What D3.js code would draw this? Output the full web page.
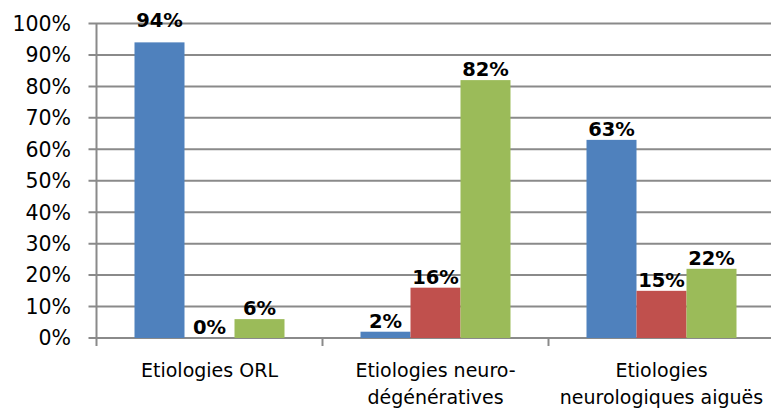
<!DOCTYPE html>
<html>
<head>
<meta charset="utf-8">
<script src="https://cdn.jsdelivr.net/npm/d3@7"></script>
<style>
  html, body { margin: 0; padding: 0; background: #fff; }
  svg { display: block; }
</style>
</head>
<body>
<svg id="chart" width="771" height="409"></svg>
<script>
const categories = [
  ["Etiologies ORL"],
  ["Etiologies neuro-", "dégénératives"],
  ["Etiologies", "neurologiques aiguës"]
];
const seriesNames = ["S1", "S2", "S3"];
const series1 = [0.94, 0.02, 0.63];
const series2 = [0.00, 0.16, 0.15];
const series3 = [0.06, 0.82, 0.22];
const yTicks = [0, 0.1, 0.2, 0.3, 0.4, 0.5, 0.6, 0.7, 0.8, 0.9, 1.0];
const colors = ["#4F81BD", "#C0504D", "#9BBB59"];

(function () {
const svg = d3.select("#chart");
const pLeft = 96.5, pRight = 774.5, pTop = 23.5, pBottom = 338;
const gridColor = "#8a8a8a";

const catKeys = categories.map((c, i) => i);
const x0 = d3.scaleBand().domain(catKeys).range([pLeft, pRight]).padding(0);
const x1 = d3.scaleBand().domain(seriesNames).range([0, x0.bandwidth()])
  .paddingInner(0).paddingOuter(0.76);
const y = d3.scaleLinear().domain([0, 1]).range([pBottom, pTop]);

// gridlines
svg.append("g").selectAll("line").data(yTicks).join("line")
  .attr("x1", pLeft - 8).attr("x2", pRight)
  .attr("y1", d => y(d)).attr("y2", d => y(d))
  .attr("stroke", gridColor).attr("stroke-width", 2);

// y axis line
svg.append("line").attr("x1", pLeft).attr("x2", pLeft)
  .attr("y1", pTop).attr("y2", pBottom + 8)
  .attr("stroke", gridColor).attr("stroke-width", 2);

// category tick marks
svg.append("g").selectAll("line").data(catKeys.slice(1).concat([catKeys.length])).join("line")
  .attr("x1", d => pLeft + d * x0.step()).attr("x2", d => pLeft + d * x0.step())
  .attr("y1", pBottom).attr("y2", pBottom + 8)
  .attr("stroke", gridColor).attr("stroke-width", 2);

// y tick labels
const fmt = d3.format(".0%");
svg.append("g").selectAll("text").data(yTicks).join("text")
  .attr("x", 71).attr("y", d => y(d))
  .attr("dy", "0.36em")
  .attr("text-anchor", "end")
  .attr("font-family", "DejaVu Sans")
  .attr("font-size", 20.5)
  .attr("fill", "#000")
  .text(d => fmt(d));

const allSeries = [series1, series2, series3];
const bars = [];
catKeys.forEach(ci => {
  allSeries.forEach((s, si) => {
    bars.push({ci, si, v: s[ci]});
  });
});

svg.append("g").selectAll("rect").data(bars).join("rect")
  .attr("x", d => x0(d.ci) + x1(seriesNames[d.si]))
  .attr("width", x1.bandwidth())
  .attr("y", d => y(d.v))
  .attr("height", d => y(0) - y(d.v))
  .attr("fill", d => colors[d.si]);

// data labels
svg.append("g").selectAll("text").data(bars).join("text")
  .attr("x", d => x0(d.ci) + x1(seriesNames[d.si]) + x1.bandwidth() / 2)
  .attr("y", d => d.v > 0.9 ? pTop + 3.5 : y(d.v) - 4)
  .attr("text-anchor", "middle")
  .attr("font-family", "DejaVu Sans")
  .attr("font-weight", "bold")
  .attr("font-size", 19.5)
  .attr("fill", "#000")
  .text(d => fmt(d.v));

// category labels
const catG = svg.append("g");
categories.forEach((lines, ci) => {
  lines.forEach((ln, li) => {
    catG.append("text")
      .attr("x", x0(ci) + x0.bandwidth() / 2)
      .attr("y", 377 + li * 27)
      .attr("text-anchor", "middle")
      .attr("font-family", "DejaVu Sans")
      .attr("font-size", 19)
      .attr("fill", "#000")
      .text(ln);
  });
});
})();
</script>
</body>
</html>
